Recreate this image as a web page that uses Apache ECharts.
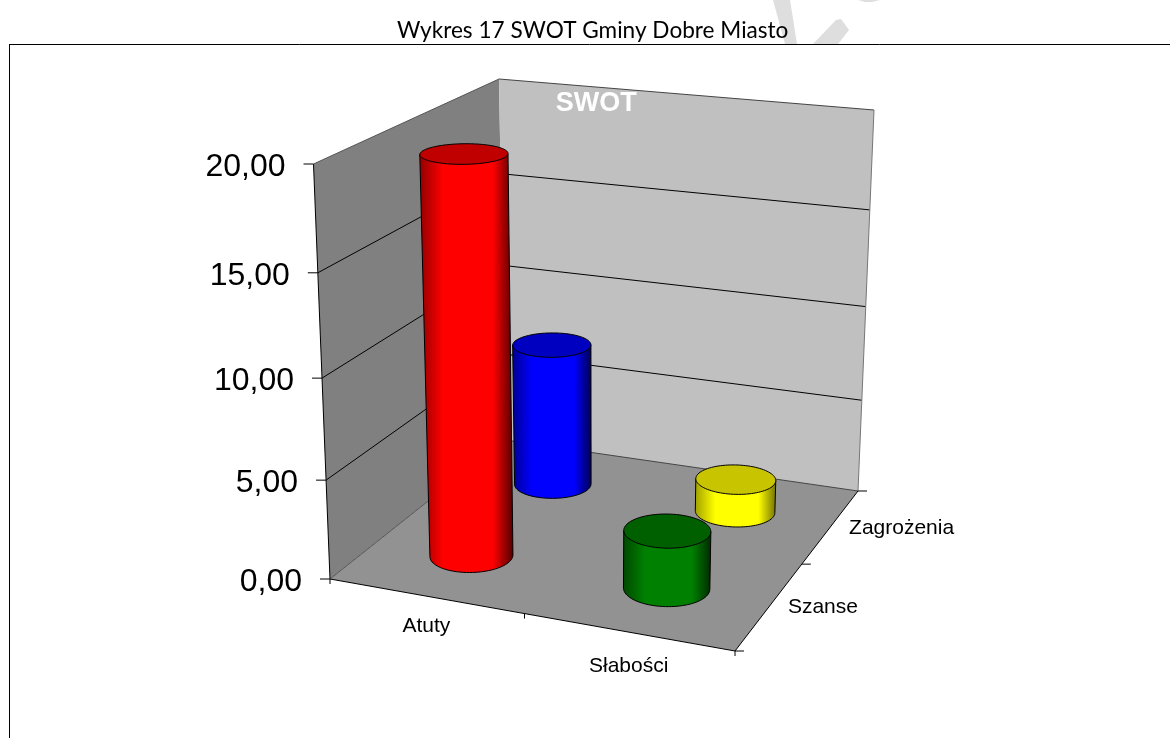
<!DOCTYPE html>
<html><head><meta charset="utf-8">
<style>html,body{margin:0;padding:0;background:#fff}#c{width:1170px;height:738px}</style>
<script src="https://cdn.jsdelivr.net/npm/echarts@6/dist/echarts.min.js"></script>
</head><body><div id="c"></div>
<script>
// ---- data ----
const titleText = 'Wykres 17 SWOT Gminy Dobre Miasto';
const chartName = 'SWOT';
const xCategories = ['Atuty', 'Słabości'];
const depthCategories = ['Szanse', 'Zagrożenia'];
const valueTicks = [0, 5, 10, 15, 20];
const valueLabels = ['0,00', '5,00', '10,00', '15,00', '20,00'];
const barNames = ['Szanse', 'Zagrożenia', 'Atuty', 'Słabości'];
const barXIndex = [0, 1, 0, 1];
const barDepthIndex = [1, 1, 0, 0];
const barValues = [7.65, 1.75, 19.8, 2.9];
const barColors = [
  {left:'#000090', right:'#000050', mid:'#0000ff', top:'#0000c0'},
  {left:'#a0a000', right:'#707000', mid:'#ffff00', top:'#c8c400'},
  {left:'#900000', right:'#500000', mid:'#ff0000', top:'#c00000'},
  {left:'#004800', right:'#002800', mid:'#008000', top:'#006000'}
];

// ---- view: corners of the plot box on screen (projection set-up, not data) ----
const box = {
  fl0:[330,579], fr0:[735,651], br0:[858,491], bl0:[505,440],
  fl1:[313.5,164], fr1:[744.4,207.8], br1:[874,110], bl1:[499,79]
};
const persp = -0.062;
const radius = 0.1; // in unit floor coords (floor is 1 x 1)

function homography(p00,p10,p11,p01){ // unit square -> quad
  const [x0,y0]=p00,[x1,y1]=p10,[x2,y2]=p11,[x3,y3]=p01;
  const dx1=x1-x2,dx2=x3-x2,sx=x0-x1+x2-x3,dy1=y1-y2,dy2=y3-y2,sy=y0-y1+y2-y3;
  const d=dx1*dy2-dx2*dy1;
  const g=(sx*dy2-dx2*sy)/d,h=(dx1*sy-sx*dy1)/d;
  const a=x1-x0+g*x1,b=x3-x0+h*x3,c=x0,e=y1-y0+g*y1,f=y3-y0+h*y3,i=y0;
  return (u,v)=>{const w=g*u+h*v+1;return [(a*u+b*v+c)/w,(e*u+f*v+i)/w];};
}
const floorH = homography(box.fl0,box.fr0,box.br0,box.bl0);
const topH = homography(box.fl1,box.fr1,box.br1,box.bl1);
function project(u,d,s){
  const t = s*(1+persp)/(1+persp*s);
  const a=floorH(u,d), b=topH(u,d);
  return [a[0]+(b[0]-a[0])*t, a[1]+(b[1]-a[1])*t];
}
const G = {left:100,top:100,width:800,height:400};
function normX(api,i){ return (api.coord([i,0])[0]-G.left)/G.width; }
function normV(api,v){ return (G.top+G.height-api.coord([0,v])[1])/G.height; }
const normD = i => (i+0.5)/depthCategories.length;

const line=(a,b,color,w)=>({type:'line',shape:{x1:a[0],y1:a[1],x2:b[0],y2:b[1]},style:{stroke:color,lineWidth:w||1,fill:null},silent:true});
const poly=(pts,fill,stroke,w)=>({type:'polygon',shape:{points:pts},style:{fill:fill,stroke:stroke||null,lineWidth:w||0},silent:true});
const txt=(x,y,s,font,align,color)=>({type:'text',x:x,y:y,style:{text:s,font:font,fill:color||'#000',align:align||'left',verticalAlign:'middle'},silent:true});

function renderScene(params,api){
  const kids=[];
  const normS=v=>normV(api,v);
  kids.push(poly([project(0,0,0),project(0,1,0),project(0,1,1),project(0,0,1)],'#808080'));
  kids.push(poly([project(0,1,0),project(1,1,0),project(1,1,1),project(0,1,1)],'#c0c0c0'));
  kids.push(poly([project(0,0,0),project(1,0,0),project(1,1,0),project(0,1,0)],'#929292'));
  valueTicks.forEach((v,i)=>{
    const s=normS(v);
    const a=project(0,0,s),b=project(0,1,s),c=project(1,1,s);
    const inner=(i>0&&i<valueTicks.length-1);
    if(inner){kids.push(line(a,b,'#000',1));kids.push(line(b,c,'#000',1));}
    kids.push(line([a[0]-10,a[1]],a,'#000',1));
    kids.push(txt(a[0]-28,a[1]+3,valueLabels[i],'32px "Liberation Sans"','right'));
  });
  // box edges
  kids.push(line(project(0,0,0),project(0,0,1),'#000',1));
  kids.push(line(project(0,0,1),project(0,1,1),'#555',1));
  kids.push(line(project(0,1,1),project(1,1,1),'#444',1));
  kids.push(line(project(1,1,1),project(1,1,0),'#777',1));
  kids.push(line(project(0,0,0),project(0,1,0),'#555',1));
  kids.push(line(project(0,1,0),project(1,1,0),'#444',1));
  kids.push(line(project(0,0,0),project(1,0,0),'#000',1));
  kids.push(line(project(1,0,0),project(1,1,0),'#000',1));
  // category ticks + labels
  [0,0.5,1].forEach(u=>{const p=project(u,0,0);kids.push(line(p,[p[0],p[1]+5],'#000',1));});
  [0,0.5,1].forEach(d=>{const p=project(1,d,0);kids.push(line(p,[p[0]+9,p[1]],'#000',1));});
  xCategories.forEach((c,i)=>{
    const p=project(normX(api,i),0,0);
    kids.push(txt(p[0]+1,p[1]+30+i*4,c,'21px "Liberation Sans"','center'));
  });
  depthCategories.forEach((c,i)=>{
    const p=project(1,normD(i),0);
    kids.push(txt(p[0]+18,p[1]+2,c,'21px "Liberation Sans"','left'));
  });
  const tp=project(0.25,1,1);
  kids.push(txt(tp[0]+8,tp[1]+17,chartName,'bold 27px "Liberation Sans"','center','#fff'));
  return {type:'group',children:kids};
}

function circle(u,d,s,n){
  const pts=[];
  for(let k=0;k<n;k++){
    const a=k/n*2*Math.PI;
    pts.push(project(u+radius*Math.cos(a),d+radius*Math.sin(a),s));
  }
  return pts;
}
function renderBar(params,api){
  const i=params.dataIndex;
  const u=normX(api,api.value(0)), d=normD(api.value(1)), s=normV(api,api.value(2));
  const col=barColors[i];
  const bot=circle(u,d,0,96), top=circle(u,d,s,96);
  const ext=pts=>{let l=0,r=0;pts.forEach((p,k)=>{if(p[0]<pts[l][0])l=k;if(p[0]>pts[r][0])r=k;});return [l,r];};
  const [bl,br]=ext(bot),[tl,tr]=ext(top);
  const walk=(pts,a,b,dir)=>{const out=[];let k=a;for(;;){out.push(pts[k]);if(k===b)break;k=(k+dir+pts.length)%pts.length;}return out;};
  let arc=walk(bot,bl,br,1), arc2=walk(bot,bl,br,-1);
  const avg=a=>a.reduce((t,p)=>t+p[1],0)/a.length;
  const lower=avg(arc)>avg(arc2)?arc:arc2;
  const body=[top[tl]].concat(lower,[top[tr]]);
  const grad=new echarts.graphic.LinearGradient(0,0,1,0,[
    {offset:0,color:col.left},{offset:0.25,color:col.mid},
    {offset:0.78,color:col.mid},{offset:1,color:col.right}
  ]);
  return {type:'group',children:[
    poly(body,grad,'#000',1),
    poly(top,col.top,'#000',1)
  ]};
}

const chart=echarts.init(document.getElementById('c'),null,{renderer:'canvas'});
chart.setOption({
  animation:false,
  backgroundColor:'#fff',
  title:{text:titleText,left:397,top:19,z:6,textStyle:{fontFamily:'Lato',fontSize:22.6,fontWeight:'normal',color:'#000'},padding:0},
  grid:G,
  xAxis:{type:'category',data:xCategories,show:false},
  yAxis:{type:'value',min:valueTicks[0],max:valueTicks[valueTicks.length-1],interval:5,show:false},
  graphic:[
    {type:'polygon',z:-1,silent:true,shape:{points:[[773,0],[790,0],[797,44],[785,44]]},style:{fill:'#dedede'}},
    {type:'polygon',z:-1,silent:true,shape:{points:[[813,44],[836,20],[841,19],[849,30],[838,44]]},style:{fill:'#dedede'}},
    {type:'polygon',z:-1,silent:true,shape:{points:[[858,0],[880,0],[872,2],[865,2]]},style:{fill:'#dedede'}},
    {type:'line',z:5,silent:true,shape:{x1:9,y1:44.5,x2:1170,y2:44.5},style:{stroke:'#000',lineWidth:1}},
    {type:'line',z:5,silent:true,shape:{x1:9.5,y1:44,x2:9.5,y2:738},style:{stroke:'#000',lineWidth:1}}
  ],
  series:[
    {name:'scene',type:'custom',coordinateSystem:'cartesian2d',clip:false,z:1,silent:true,
     renderItem:renderScene,data:[[0,0]],encode:{x:0,y:1}},
    {name:'bars',type:'custom',coordinateSystem:'cartesian2d',clip:false,z:2,silent:true,
     renderItem:renderBar,
     encode:{x:0,y:2},
     data:barValues.map((v,i)=>({name:barNames[i],value:[barXIndex[i],barDepthIndex[i],v]}))}
  ]
});
</script></body></html>
